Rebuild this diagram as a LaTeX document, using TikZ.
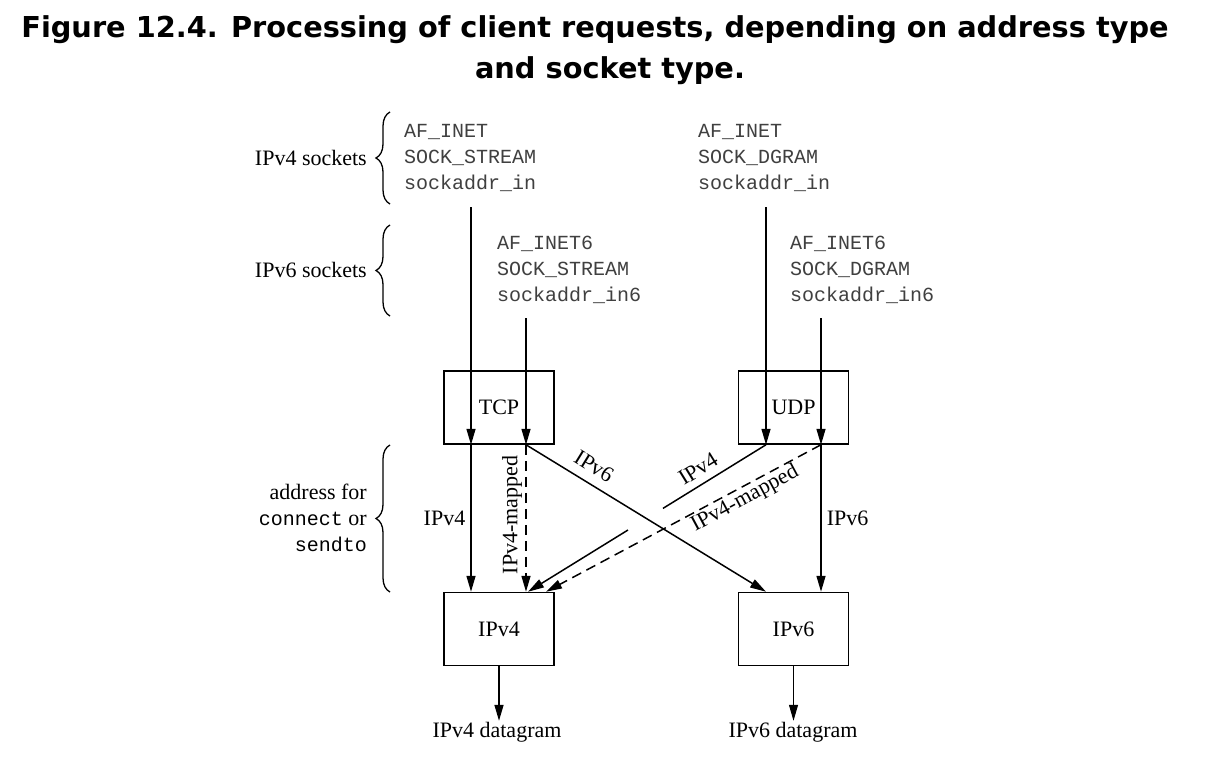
\documentclass[tikz,border=0pt]{standalone}
\usepackage{fontspec}
\setmainfont{Liberation Serif}
\newfontfamily\codefont{Liberation Mono}
\newfontfamily\titlefont{DejaVu Sans}
\usetikzlibrary{arrows.meta,decorations.pathreplacing,calc}
\tikzset{
  box/.style={draw, line width=1.5pt, minimum width=110pt, minimum height=73pt, inner sep=0pt, font=\fontsize{22}{26}\selectfont},
  arr/.style={line width=1.5pt, -{Triangle[length=16pt,width=9pt]}},
  plain/.style={line width=1.5pt},
  dsh/.style={dash pattern=on 10pt off 6pt},
  lbl/.style={font=\fontsize{22}{26}\selectfont, inner sep=1pt},
  code/.style={font=\codefont\fontsize{20}{26}\selectfont, text=black!75, align=left, anchor=west, inner sep=0pt},
  brc/.style={decorate, decoration={brace, amplitude=14pt}, line width=1.3pt},
  ttl/.style={font=\titlefont\bfseries\fontsize{28.8}{34}\selectfont, inner sep=0pt}
}
\begin{document}
\begin{tikzpicture}[x=1pt, y=-1pt]
\useasboundingbox[fill=white] (0,0) rectangle (1220,763);
% title
\node[ttl] (t1) at (595,30) {Figure 12.4. Processing of client requests, depending on address type};
\node[ttl] (t2) at (610,71) {and socket type.};
% left labels and braces
\node[lbl, anchor=east] (l4) at (368,158) {IPv4 sockets};
\node[lbl, anchor=east] (l6) at (368,270) {IPv6 sockets};
\node[lbl, anchor=east, align=right] (la) at (368,518) {address for\\{\codefont\fontsize{20}{26}\selectfont connect} or\\{\codefont\fontsize{20}{26}\selectfont sendto}};
\draw[brc] (390,204) -- (390,112);
\draw[brc] (390,316) -- (390,225);
\draw[brc] (390,592) -- (390,445);
% socket descriptions
\node[code] (c1) at (404,158) {AF\_INET\\SOCK\_STREAM\\sockaddr\_in};
\node[code] (c2) at (497,270) {AF\_INET6\\SOCK\_STREAM\\sockaddr\_in6};
\node[code] (c3) at (698,158) {AF\_INET\\SOCK\_DGRAM\\sockaddr\_in};
\node[code] (c4) at (790,270) {AF\_INET6\\SOCK\_DGRAM\\sockaddr\_in6};
% boxes
\node[box] (tcp) at (499,407.5) {TCP};
\node[box] (udp) at (793.5,407.5) {UDP};
\node[box] (ip4) at (499,629) {IPv4};
\node[box] (ip6) at (793.5,629) {IPv6};
\node[lbl] (d4) at (497,732) {IPv4 datagram};
\node[lbl] (d6) at (793,732) {IPv6 datagram};
% line starts
\coordinate (s4t) at (471,207);
\coordinate (s6t) at (526,318);
\coordinate (s4u) at (766,207);
\coordinate (s6u) at (821,318);
\coordinate (e4a) at ([xshift=29pt]ip4.north);
\coordinate (e4b) at ([xshift=47pt]ip4.north);
% into TCP / UDP
\draw[arr] (s4t) -- (s4t |- tcp.south);
\draw[arr] (s6t) -- (s6t |- tcp.south);
\draw[arr] (s4u) -- (s4u |- udp.south);
\draw[arr] (s6u) -- (s6u |- udp.south);
% TCP outputs
\draw[arr] (s4t |- tcp.south) -- node[lbl, left=4pt] (lv4) {IPv4} (s4t |- ip4.north);
\draw[arr, dsh] (s6t |- tcp.south) -- (s6t |- ip4.north);
\node[lbl, rotate=90] (lm1) at (512,515) {IPv4-mapped};
\draw[arr] (s6t |- tcp.south) -- (s4u |- ip6.north);
\node[lbl, rotate=-31.7] (lv6a) at (594,466) {IPv6};
% UDP outputs
\draw[plain] (s4u |- udp.south) -- ($(s4u |- udp.south)!0.433!(e4a)$);
\draw[arr] ($(s4u |- udp.south)!0.58!(e4a)$) -- (e4a);
\node[lbl, rotate=31.7] (lv4b) at (698,469) {IPv4};
\draw[arr, dsh] (s6u |- udp.south) -- (e4b);
\node[lbl, rotate=28.3] (lm2) at (745,499) {IPv4-mapped};
\draw[arr] (s6u |- udp.south) -- node[lbl, right=4pt] (lv6b) {IPv6} (s6u |- ip6.north);
% datagrams
\draw[arr] (ip4.south) -- (ip4.south |- d4.north);
\draw[arr, line width=1pt] (ip6.south) -- (ip6.south |- d6.north);
\end{tikzpicture}
\end{document}
